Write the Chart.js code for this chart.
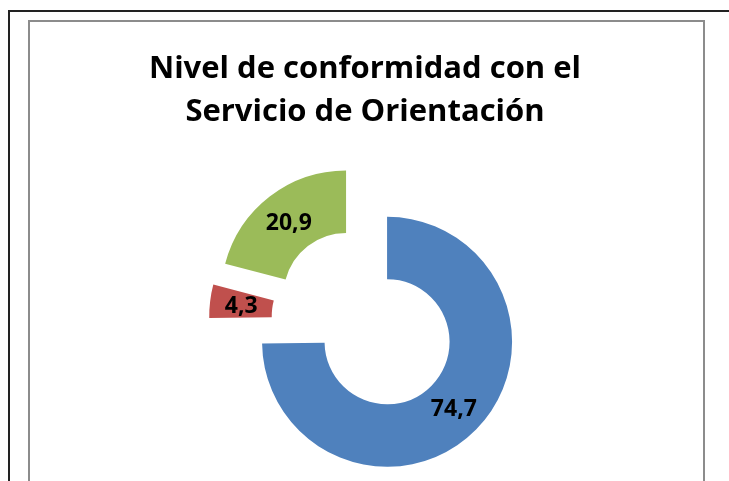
<!DOCTYPE html>
<html>
<head>
<meta charset="utf-8">
<script src="https://cdn.jsdelivr.net/npm/chart.js@4"></script>
<style>
  html, body { margin: 0; padding: 0; width: 729px; height: 481px; overflow: hidden; background: #fff; }
  #outer { position: absolute; left: 8px; top: 10px; width: 760px; height: 520px; border: 2px solid #222; box-sizing: border-box; }
  #inner { position: absolute; left: 28px; top: 20px; width: 677px; height: 520px; border: 2px solid #8c8c8c; box-sizing: border-box; }
  #wrap { position: absolute; left: 0; top: 0; width: 729px; height: 500px; }
</style>
</head>
<body>
<div id="outer"></div>
<div id="inner"></div>
<div id="wrap"><canvas id="c" width="729" height="500"></canvas></div>
<script>
const titleLines = ['Nivel de conformidad con el', 'Servicio de Orientación'];
const categories = ['Conforme', 'No conforme', 'Parcialmente conforme'];
const values = [74.7, 4.3, 20.9];
const colors = ['#4f81bd', '#c0504d', '#9bbb59'];

const EXPLODE = 31; // uniform pixel explosion of each slice (like Excel point explosion)

function fmt(v) { return v.toFixed(1).replace('.', ','); }

// Move each slice outward along its bisector by the same distance, keeping its radii.
const explodePlugin = {
  id: 'explode',
  beforeDatasetsDraw(chart) {
    chart.getDatasetMeta(0).data.forEach((arc) => {
      if (arc.$wrapped) return;
      const orig = arc.draw;
      arc.draw = function (ctx, area) {
        const mid = (this.startAngle + this.endAngle) / 2;
        ctx.save();
        ctx.translate(Math.cos(mid) * EXPLODE, Math.sin(mid) * EXPLODE);
        orig.call(this, ctx, area);
        ctx.restore();
      };
      arc.$wrapped = true;
    });
  }
};

const labelPlugin = {
  id: 'sliceLabels',
  afterDatasetsDraw(chart) {
    const ctx = chart.ctx;
    const meta = chart.getDatasetMeta(0);
    ctx.save();
    ctx.font = 'bold 23px "Open Sans"';
    ctx.fillStyle = '#000';
    ctx.textAlign = 'center';
    ctx.textBaseline = 'middle';
    meta.data.forEach((arc, i) => {
      const p = arc.getProps(['x', 'y', 'startAngle', 'endAngle', 'innerRadius', 'outerRadius'], true);
      const mid = (p.startAngle + p.endAngle) / 2;
      const r = EXPLODE + (p.innerRadius + p.outerRadius) / 2;
      ctx.fillText(fmt(values[i]), p.x + Math.cos(mid) * r, p.y + Math.sin(mid) * r + 2);
    });
    ctx.restore();
  }
};

new Chart(document.getElementById('c'), {
  type: 'doughnut',
  data: {
    labels: categories,
    datasets: [{
      data: values,
      backgroundColor: colors,
      borderWidth: 0,
      offset: 0,
      hoverOffset: 0
    }]
  },
  options: {
    responsive: false,
    animation: false,
    radius: 125,
    cutout: '50%',
    layout: { padding: { left: 1, right: 0, top: 0, bottom: 0 } },
    plugins: {
      legend: { display: false },
      tooltip: { enabled: false },
      title: {
        display: true,
        text: titleLines,
        color: '#000',
        font: { family: 'Open Sans', size: 31, weight: 'bold', lineHeight: 1.387 },
        padding: { top: 48, bottom: 6 }
      }
    },
    events: []
  },
  plugins: [explodePlugin, labelPlugin]
});
</script>
</body>
</html>
